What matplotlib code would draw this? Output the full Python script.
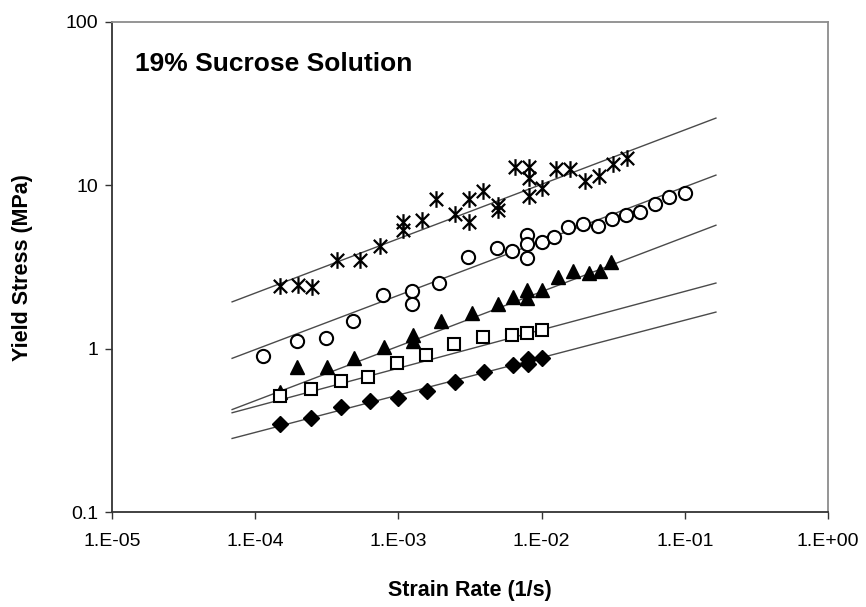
import matplotlib
matplotlib.use("Agg")
import matplotlib.pyplot as plt
import numpy as np
from matplotlib.path import Path
from matplotlib.ticker import FixedLocator, FixedFormatter, NullLocator

# ---------------- data ----------------
star_x = [1.5e-4, 2.0e-4, 2.5e-4, 3.7e-4, 5.4e-4, 7.5e-4, 1.08e-3, 1.08e-3, 1.46e-3,
          1.83e-3, 2.48e-3, 3.11e-3, 3.11e-3, 3.9e-3, 4.95e-3, 4.95e-3, 6.5e-3,
          8.2e-3, 8.2e-3, 8.2e-3, 1.0e-2, 1.26e-2, 1.57e-2, 2.0e-2, 2.5e-2, 3.16e-2, 3.95e-2]
star_y = [2.41, 2.45, 2.38, 3.47, 3.47, 4.25, 6.0, 5.3, 6.1,
          8.2, 6.7, 8.2, 6.0, 9.2, 7.6, 7.05, 12.9,
          12.9, 11.1, 8.6, 9.6, 12.6, 12.6, 10.7, 11.4, 13.6, 14.6]

circ_x = [1.13e-4, 1.96e-4, 3.1e-4, 4.8e-4, 7.8e-4, 1.24e-3, 1.24e-3, 1.92e-3, 3.06e-3,
          4.9e-3, 6.2e-3, 7.9e-3, 7.9e-3, 7.9e-3, 1.0e-2, 1.22e-2, 1.54e-2, 1.95e-2,
          2.47e-2, 3.1e-2, 3.9e-2, 4.9e-2, 6.2e-2, 7.8e-2, 1.0e-1]
circ_y = [0.90, 1.11, 1.16, 1.47, 2.13, 2.25, 1.87, 2.52, 3.64,
          4.13, 3.96, 4.96, 4.37, 3.59, 4.5, 4.81, 5.53, 5.82,
          5.61, 6.2, 6.6, 6.9, 7.7, 8.5, 8.97]

tri_x = [1.5e-4, 1.96e-4, 3.15e-4, 4.9e-4, 7.9e-4, 1.26e-3, 1.26e-3, 1.98e-3, 3.27e-3,
         4.97e-3, 6.3e-3, 7.9e-3, 7.9e-3, 1.0e-2, 1.3e-2, 1.66e-2, 2.13e-2, 2.55e-2, 3.05e-2]
tri_y = [0.54, 0.77, 0.77, 0.875, 1.02, 1.22, 1.11, 1.476, 1.65,
         1.88, 2.07, 2.29, 2.04, 2.29, 2.75, 2.99, 2.9, 3.0, 3.4]

sq_x = [1.5e-4, 2.45e-4, 3.96e-4, 6.1e-4, 9.8e-4, 1.55e-3, 2.45e-3, 3.9e-3, 6.2e-3, 7.9e-3, 1.0e-2]
sq_y = [0.51, 0.566, 0.634, 0.67, 0.815, 0.914, 1.07, 1.18, 1.21, 1.25, 1.30]

dia_x = [1.5e-4, 2.45e-4, 4.0e-4, 6.3e-4, 9.9e-4, 1.58e-3, 2.5e-3, 3.95e-3, 6.3e-3, 8.0e-3, 8.0e-3, 1.0e-2]
dia_y = [0.345, 0.376, 0.438, 0.477, 0.50, 0.55, 0.625, 0.72, 0.795, 0.81, 0.86, 0.875]

# power-law fit lines: stress = K * rate^n
fit_K = [47.0, 21.0, 10.4, 3.85, 2.53]
fit_n = [0.333, 0.332, 0.334, 0.235, 0.229]
fit_range = [6.9e-5, 0.165]

x_ticks = [1e-5, 1e-4, 1e-3, 1e-2, 1e-1, 1e0]
x_ticklabels = ["1.E-05", "1.E-04", "1.E-03", "1.E-02", "1.E-01", "1.E+00"]
y_ticks = [0.1, 1, 10, 100]
y_ticklabels = ["0.1", "1", "10", "100"]

title = "19% Sucrose Solution"
xlabel = "Strain Rate (1/s)"
ylabel = "Yield Stress (MPa)"

# ---------------- plot ----------------
plt.rcParams['font.family'] = ['Liberation Sans', 'DejaVu Sans']

fig = plt.figure(figsize=(8.66, 6.07), dpi=100)
ax = fig.add_axes([0.1293, 0.1565, 0.8268, 0.8073])
ax.set_xscale('log')
ax.set_yscale('log')
ax.set_xlim(1e-5, 1e0)
ax.set_ylim(0.1, 100)

# fit lines
xl = np.logspace(np.log10(fit_range[0]), np.log10(fit_range[1]), 50)
for K, n in zip(fit_K, fit_n):
    ax.plot(xl, K * xl ** n, color='#4a4a4a', lw=1.0, zorder=2)

star = Path([(0, -1), (0, 1), (-0.8, -0.8), (0.8, 0.8), (-0.8, 0.8), (0.8, -0.8)],
            [Path.MOVETO, Path.LINETO, Path.MOVETO, Path.LINETO, Path.MOVETO, Path.LINETO])

ax.plot(star_x, star_y, ls='none', marker=star, ms=12, mec='black', mew=1.6, zorder=3)
ax.plot(circ_x, circ_y, ls='none', marker='o', ms=9.5, mfc='white', mec='black', mew=1.5, zorder=3)
ax.plot(tri_x, tri_y, ls='none', marker='^', ms=10.5, mfc='black', mec='black', zorder=3)
ax.plot(sq_x, sq_y, ls='none', marker='s', ms=9, mfc='white', mec='black', mew=1.5, zorder=3)
ax.plot(dia_x, dia_y, ls='none', marker='D', ms=8, mfc='black', mec='black', zorder=3)

ax.xaxis.set_major_locator(FixedLocator(x_ticks))
ax.xaxis.set_major_formatter(FixedFormatter(x_ticklabels))
ax.xaxis.set_minor_locator(NullLocator())
ax.yaxis.set_major_locator(FixedLocator(y_ticks))
ax.yaxis.set_major_formatter(FixedFormatter(y_ticklabels))
ax.yaxis.set_minor_locator(NullLocator())

ax.tick_params(axis='both', direction='out', length=5, width=1, color='#333333',
               labelsize=14, pad=5)
ax.tick_params(axis='x', pad=10)

for s in ['left', 'bottom']:
    ax.spines[s].set_color('#333333')
    ax.spines[s].set_linewidth(1.3)
for s in ['top', 'right']:
    ax.spines[s].set_color('#8c8c8c')
    ax.spines[s].set_linewidth(1.3)

ax.text(0.032, 0.914, title, transform=ax.transAxes, fontsize=19, fontweight='bold',
        ha='left', va='center')

fig.text(0.5425, 0.028, xlabel, ha='center', va='center', fontsize=15.5, fontweight='bold')
fig.text(0.026, 0.56, ylabel, ha='center', va='center', rotation=90, fontsize=15.5,
         fontweight='bold')

fig.savefig('out.png', dpi=100)
